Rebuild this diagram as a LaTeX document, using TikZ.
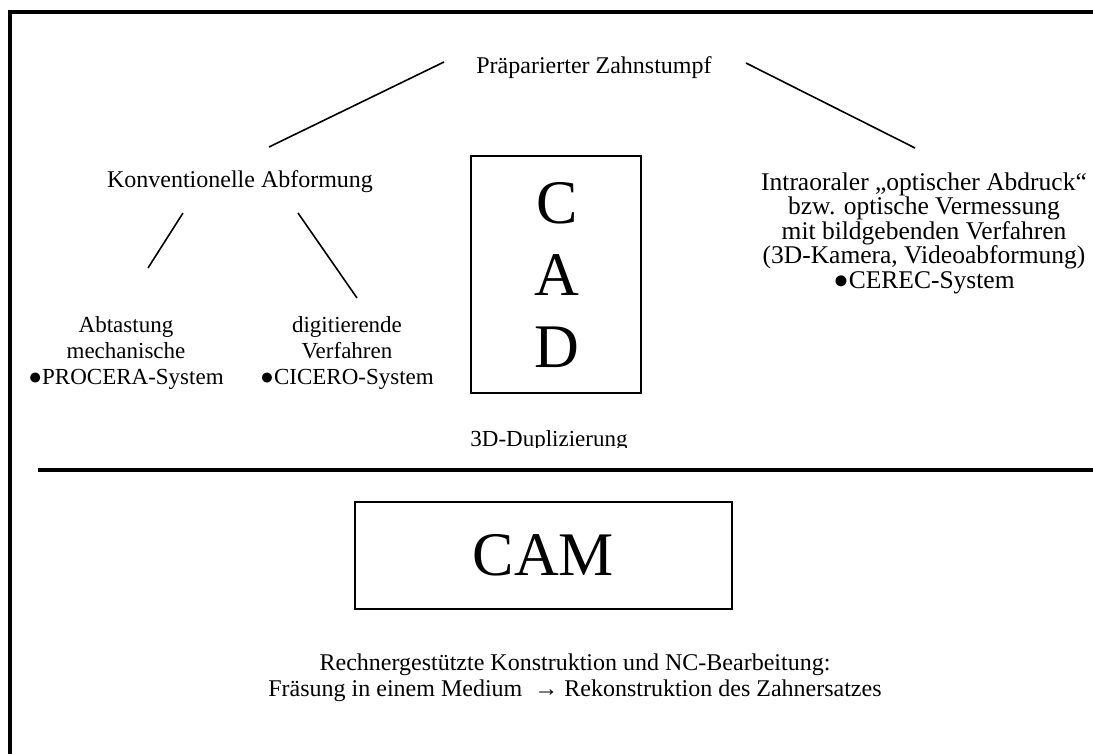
\documentclass[tikz,border=0pt]{standalone}
\usepackage{fontspec}
\setmainfont{Liberation Serif}
\usepackage{tikz}
\usetikzlibrary{positioning}
\tikzstyle{canvas} = [x = 1pt, y = -1pt]
\tikzstyle{frameLine} = [color=black, line width=3.5pt]
\tikzstyle{connLine} = [color=black, line width=1.6pt]
\tikzstyle{boxStyle} = [draw=black, line width=1.8pt]
\tikzstyle{labelText} = [font=\fontsize{24}{26}\selectfont, align=center, inner sep=0pt, anchor=base]
\tikzstyle{bigText} = [font=\fontsize{62}{72}\selectfont, inner sep=0pt]
\newcommand{\connector}[2]{\draw [connLine] (#1) -- (#2);}

\begin{document}
\begin{tikzpicture}[canvas]
  \useasboundingbox (0,0) rectangle (1093,754);
  % frame and separator
  \draw [frameLine] (10,754) -- (10,12) -- (1093,12);
  \draw [frameLine] (38,470) -- (1093,470);

  % texts (base = last line)
  \node [labelText] (stump) at (594,74) {Präparierter Zahnstumpf};
  \node [labelText] (conv) at (240,188) {Konventionelle Abformung};
  \node [labelText, font=\fontsize{23}{26}\selectfont] (abtast) at (126,384) {Abtastung\\mechanische\\●PROCERA-System};
  \node [labelText, font=\fontsize{23}{26}\selectfont] (digit) at (347,384) {digitierende\\Verfahren\\●CICERO-System};
  \node [labelText, font=\fontsize{25.5}{24.5}\selectfont] (intra) at (924,288) {Intraoraler „optischer Abdruck“\\bzw. optische Vermessung\\mit bildgebenden Verfahren\\(3D-Kamera, Videoabformung)\\●CEREC-System};
  \begin{scope}
    \clip (430,420) rectangle (700,447);
    \node [labelText, font=\fontsize{23}{25}\selectfont] (dup) at (549,446) {3D-Duplizierung};
  \end{scope}
  \node [labelText] (nc) at (575,696) {Rechnergestützte Konstruktion und NC-Bearbeitung:\\Fräsung in einem Medium \ → Rekonstruktion des Zahnersatzes};

  % CAD and CAM
  \draw [boxStyle] (471,156) rectangle (641,393);
  \node [bigText] (cadC) at (557,203) {C};
  \node [bigText] (cadA) at (557,275) {A};
  \node [bigText] (cadD) at (557,347) {D};
  \node [boxStyle, minimum width=377pt, minimum height=107pt, inner sep=0pt, font=\fontsize{62}{72}\selectfont] (cam) at (543.5,555.5) {CAM};

  % connectors
  \coordinate (stumpLeft) at (444,62);
  \coordinate (convTop) at (269,147);
  \coordinate (stumpRight) at (746,63);
  \coordinate (intraTop) at (915,148);
  \coordinate (convLeft) at (183,213);
  \coordinate (abtastTop) at (148,268);
  \coordinate (convRight) at (298,213);
  \coordinate (digitTop) at (357,298);
  \connector{stumpLeft}{convTop}
  \connector{stumpRight}{intraTop}
  \connector{convLeft}{abtastTop}
  \connector{convRight}{digitTop}
\end{tikzpicture}
\end{document}
